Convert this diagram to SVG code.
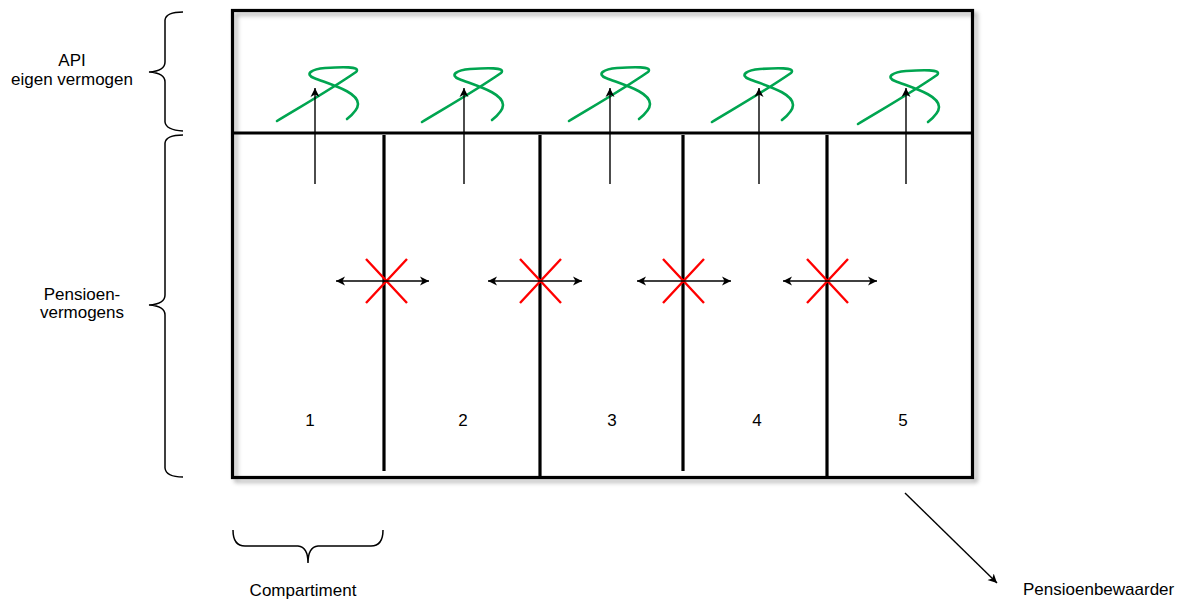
<svg xmlns="http://www.w3.org/2000/svg" width="1191" height="600" viewBox="0 0 1191 600">
<style>
.t{font-family:"Liberation Sans",Arial,sans-serif;font-size:17px;fill:#000}
.box{fill:none;stroke:#000;stroke-width:3.2}
.div{stroke:#000;stroke-width:3.2}
.brace{fill:none;stroke:#000;stroke-width:1.5}
.sq{fill:none;stroke:#00a550;stroke-width:2.6;stroke-linecap:round}
.up{stroke:#000;stroke-width:1.4;marker-end:url(#ah)}
.dbl{stroke:#000;stroke-width:1.4;marker-start:url(#ahs);marker-end:url(#ah)}
.x{stroke:#ff0000;stroke-width:2.4}
</style>
<defs>
<marker id="ah" markerWidth="10" markerHeight="10" refX="9" refY="5" orient="auto" markerUnits="userSpaceOnUse">
<path d="M0,0.5 L9,5 L0,9.5 L2.5,5 Z" fill="#000"/>
</marker>
<marker id="ahs" markerWidth="10" markerHeight="10" refX="1" refY="5" orient="auto" markerUnits="userSpaceOnUse">
<path d="M10,0.5 L1,5 L10,9.5 L7.5,5 Z" fill="#000"/>
</marker>
<filter id="sh" x="-5%" y="-5%" width="110%" height="110%">
<feGaussianBlur stdDeviation="2"/>
</filter>
<g id="squig"><path class="sq" d="M277,121 C300,107 330,90 356,72 C362,66 340,67 325,68 C312,69 304,74 314,78 C332,85 358,92 358,104 C358,110 352,115 347,119"/></g>
</defs>
<rect x="236" y="14" width="740" height="467" fill="none" stroke="#888" stroke-width="3" filter="url(#sh)" opacity="0.7"/>
<g id="frame">
<rect x="232.5" y="10.5" width="740" height="467" fill="#fff" class="box"/>
<line x1="232" y1="133" x2="973" y2="133" class="div"/>
</g>
<g id="compartment1"><line x1="384" y1="135" x2="384" y2="471" class="div"/><text class="t" x="310" y="426" text-anchor="middle">1</text></g>
<g id="compartment2"><line x1="540" y1="135" x2="540" y2="477" class="div"/><text class="t" x="463" y="426" text-anchor="middle">2</text></g>
<g id="compartment3"><line x1="683" y1="135" x2="683" y2="471" class="div"/><text class="t" x="612" y="426" text-anchor="middle">3</text></g>
<g id="compartment4"><line x1="827" y1="135" x2="827" y2="477" class="div"/><text class="t" x="757" y="426" text-anchor="middle">4</text></g>
<g id="compartment5"><text class="t" x="903" y="426" text-anchor="middle">5</text></g>
<g id="squiggles">
<use href="#squig"/>
<use href="#squig" transform="translate(145,1)"/>
<use href="#squig" transform="translate(292,0)"/>
<use href="#squig" transform="translate(435,1)"/>
<use href="#squig" transform="translate(581,3)"/>
</g>
<g id="crosses">
<path class="x" d="M366,259 L407,303 M407,259 L366,303"/>
<path class="x" d="M520,259 L561,303 M561,259 L520,303"/>
<path class="x" d="M663,259 L704,303 M704,259 L663,303"/>
<path class="x" d="M807,259 L848,303 M848,259 L807,303"/>
</g>
<g id="connectors">
<line class="up" x1="315" y1="184" x2="315" y2="88"/>
<line class="up" x1="464" y1="184" x2="464" y2="88"/>
<line class="up" x1="610" y1="184" x2="610" y2="88"/>
<line class="up" x1="759" y1="184" x2="759" y2="88"/>
<line class="up" x1="906" y1="184" x2="906" y2="88"/>
<line class="dbl" x1="336" y1="281" x2="429" y2="281"/>
<line class="dbl" x1="488" y1="281" x2="582" y2="281"/>
<line class="dbl" x1="637" y1="281" x2="731" y2="281"/>
<line class="dbl" x1="783" y1="281" x2="877" y2="281"/>
<line class="up" x1="905" y1="493" x2="997" y2="583"/>
</g>
<g id="braces">
<path class="brace" d="M183,12 Q166,12 165,20 L165,62 Q165,71 149,72 Q165,73 165,82 L165,122 Q166,130 183,131"/>
<path class="brace" d="M183,135 Q166,135 165,143 L165,295 Q165,304 149,305 Q165,306 165,315 L165,468 Q166,477 183,477"/>
<path class="brace" d="M233,530 Q233,546 245,546 L298,546 Q308,547 308,563 Q308,547 318,546 L371,546 Q383,546 383,530"/>
</g>
<g id="labels">
<text class="t" x="72" y="66" text-anchor="middle">API</text>
<text class="t" x="72" y="85" text-anchor="middle">eigen vermogen</text>
<text class="t" x="82" y="300" text-anchor="middle">Pensioen-</text>
<text class="t" x="82" y="318" text-anchor="middle">vermogens</text>
<text class="t" x="303" y="596" text-anchor="middle">Compartiment</text>
<text class="t" x="1023" y="595">Pensioenbewaarder</text>
</g>
</svg>
